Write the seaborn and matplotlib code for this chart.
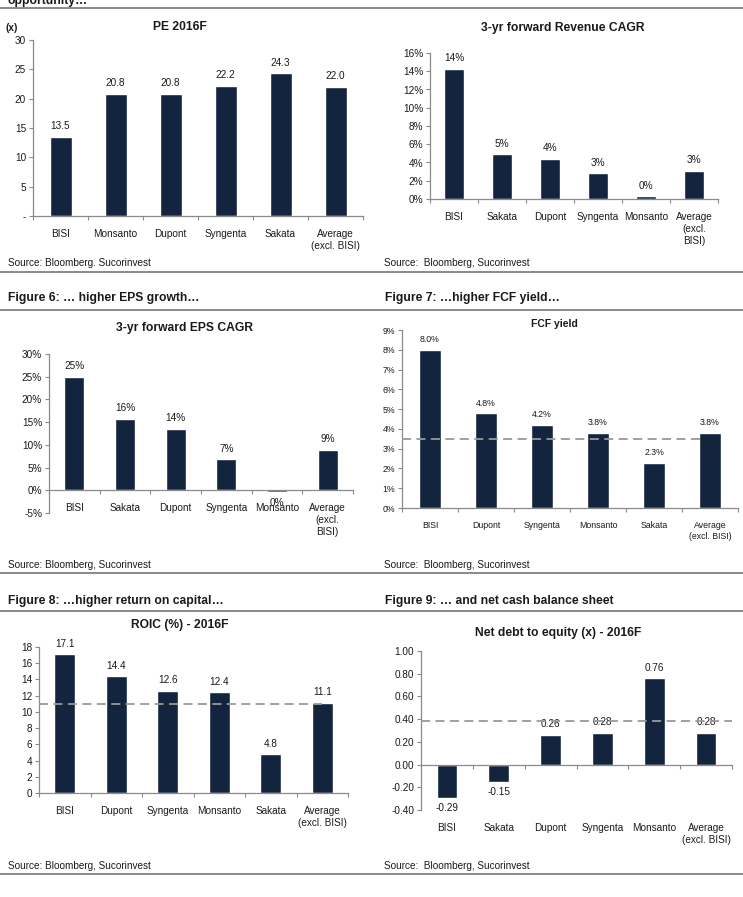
import matplotlib
matplotlib.use("Agg")
import matplotlib.pyplot as plt
from matplotlib.lines import Line2D
from matplotlib.ticker import FixedLocator, FuncFormatter
import seaborn as sns
import pandas as pd

# ---- data ----
pe_names = ["BISI", "Monsanto", "Dupont", "Syngenta", "Sakata", "Average\n(excl. BISI)"]
pe_values = [13.5, 20.8, 20.8, 22.2, 24.3, 22.0]

rev_names = ["BISI", "Sakata", "Dupont", "Syngenta", "Monsanto", "Average\n(excl.\nBISI)"]
rev_values = [14.3, 4.9, 4.4, 2.8, 0.3, 3.1]
rev_labels = ["14%", "5%", "4%", "3%", "0%", "3%"]

eps_names = ["BISI", "Sakata", "Dupont", "Syngenta", "Monsanto", "Average\n(excl.\nBISI)"]
eps_values = [25.0, 15.8, 13.5, 6.8, -0.4, 8.9]
eps_labels = ["25%", "16%", "14%", "7%", "0%", "9%"]

fcf_names = ["BISI", "Dupont", "Syngenta", "Monsanto", "Sakata", "Average\n(excl. BISI)"]
fcf_values = [8.0, 4.8, 4.2, 3.8, 2.3, 3.8]
fcf_ref = 3.5

roic_names = ["BISI", "Dupont", "Syngenta", "Monsanto", "Sakata", "Average\n(excl. BISI)"]
roic_values = [17.1, 14.4, 12.6, 12.4, 4.8, 11.1]
roic_ref = 11.0

nd_names = ["BISI", "Sakata", "Dupont", "Syngenta", "Monsanto", "Average\n(excl. BISI)"]
nd_values = [-0.29, -0.15, 0.26, 0.28, 0.76, 0.28]
nd_ref = 0.38

BAR = "#13243f"
AXC = "#8a8a8a"
TXT = "#1a1a1a"
W, H = 743, 897

sns.set_style("white")
plt.rcParams["font.family"] = ["Liberation Sans", "DejaVu Sans"]

fig = plt.figure(figsize=(W / 100, H / 100), dpi=100)


def px_axes(left, top, right, bottom):
    return fig.add_axes([left / W, 1 - bottom / H, (right - left) / W, (bottom - top) / H])


def ftext(x, y, s, **kw):
    fig.text(x / W, 1 - y / H, s, color=TXT, **kw)


def bar_panel(ax, names, values, labels, ylim, yticks, yfmt, fs=7.2,
              zero_axis=False, label_at=None, ref=None, ref_end=5.5):
    df = pd.DataFrame({"name": names, "value": values})
    sns.barplot(data=df, x="name", y="value", order=names, color=BAR,
                saturation=1, width=0.4, ax=ax, zorder=2)
    ax.set_xlim(-0.5, len(names) - 0.5)
    ax.set_ylim(*ylim)
    ax.set_xlabel("")
    ax.set_ylabel("")
    sns.despine(ax=ax)
    for s in ("left", "bottom"):
        ax.spines[s].set_color(AXC)
        ax.spines[s].set_linewidth(0.9)
    ax.yaxis.set_major_locator(FixedLocator(yticks))
    ax.yaxis.set_major_formatter(FuncFormatter(yfmt))
    ax.tick_params(axis="y", direction="out", length=3, width=0.8, color=AXC,
                   labelsize=fs, labelcolor=TXT, pad=2, left=True)
    ax.set_xticks(range(len(names)))
    ax.set_xticks([i - 0.5 for i in range(len(names) + 1)], minor=True)
    ax.tick_params(axis="x", which="minor", direction="out", length=3, width=0.8,
                   color=AXC, bottom=True)
    ax.tick_params(axis="x", which="major", length=0)
    if zero_axis:
        ax.spines["bottom"].set_position(("data", 0))
        ax.set_xticklabels([""] * len(names))
        for i, n in enumerate(names):
            ax.annotate(n, (i, label_at), xytext=(0, -9.5), textcoords="offset points",
                        ha="center", va="top", fontsize=fs, color=TXT, linespacing=1.25)
    else:
        ax.set_xticklabels(names, fontsize=fs, color=TXT, linespacing=1.25)
        ax.tick_params(axis="x", which="major", pad=9.5)
    for i, (v, lab) in enumerate(zip(values, labels)):
        up = v >= 0
        ax.annotate(lab, (i, v), xytext=(0, 4 if up else -4), textcoords="offset points",
                    ha="center", va="bottom" if up else "top", fontsize=fs, color=TXT)
    if ref is not None:
        ax.plot([-0.5, ref_end], [ref, ref], ls=(0, (5, 3)), color="#999999",
                lw=1.3, zorder=5, clip_on=False)


# PE 2016F
ax1 = px_axes(33, 40, 363, 216)
bar_panel(ax1, pe_names, pe_values, [f"{v:.1f}" for v in pe_values], (0, 30),
          range(0, 31, 5), lambda v, p: "-" if v == 0 else f"{v:.0f}")

# 3-yr forward Revenue CAGR
ax2 = px_axes(430, 53, 718, 199)
bar_panel(ax2, rev_names, rev_values, rev_labels, (0, 16), range(0, 17, 2),
          lambda v, p: f"{v:.0f}%")

# 3-yr forward EPS CAGR
ax3 = px_axes(49, 354, 353, 513)
bar_panel(ax3, eps_names, eps_values, eps_labels, (-5, 30), range(-5, 31, 5),
          lambda v, p: f"{v:.0f}%", zero_axis=True, label_at=0)

# FCF yield
ax4 = px_axes(402, 330, 738, 508)
bar_panel(ax4, fcf_names, fcf_values, [f"{v:.1f}%" for v in fcf_values], (0, 9),
          range(0, 10), lambda v, p: f"{v:.0f}%", fs=6.3, ref=fcf_ref, ref_end=4.9)

# ROIC
ax5 = px_axes(39, 647, 348, 793)
bar_panel(ax5, roic_names, roic_values, [f"{v:.1f}" for v in roic_values], (0, 18),
          range(0, 19, 2), lambda v, p: f"{v:.0f}", ref=roic_ref, ref_end=5.0)

# Net debt to equity
ax6 = px_axes(421, 651, 732, 810)
bar_panel(ax6, nd_names, nd_values, [f"{v:.2f}" for v in nd_values], (-0.4, 1.0),
          [-0.4, -0.2, 0.0, 0.2, 0.4, 0.6, 0.8, 1.0],
          lambda v, p: f"{round(v, 2) + 0:.2f}", zero_axis=True, label_at=-0.4,
          ref=nd_ref, ref_end=5.5)

# titles
ftext(180, 27, "PE 2016F", ha="center", va="center", fontsize=8.7, fontweight="bold")
ftext(6, 28, "(x)", ha="left", va="center", fontsize=7.2, fontweight="bold")
ftext(563, 28, "3-yr forward Revenue CAGR", ha="center", va="center", fontsize=8.7, fontweight="bold")
ftext(185, 328, "3-yr forward EPS CAGR", ha="center", va="center", fontsize=8.7, fontweight="bold")
ftext(554, 324, "FCF yield", ha="center", va="center", fontsize=7.5, fontweight="bold")
ftext(180, 625, "ROIC (%) - 2016F", ha="center", va="center", fontsize=8.7, fontweight="bold")
ftext(558, 633, "Net debt to equity (x) - 2016F", ha="center", va="center", fontsize=8.7, fontweight="bold")

# figure headers
ftext(8, 4, "opportunity…", ha="left", va="baseline", fontsize=8.7, fontweight="bold")
ftext(8, 298, "Figure 6: … higher EPS growth…", ha="left", va="center", fontsize=8.7, fontweight="bold")
ftext(385, 298, "Figure 7: …higher FCF yield…", ha="left", va="center", fontsize=8.7, fontweight="bold")
ftext(8, 601, "Figure 8: …higher return on capital…", ha="left", va="center", fontsize=8.7, fontweight="bold")
ftext(385, 601, "Figure 9: … and net cash balance sheet", ha="left", va="center", fontsize=8.7, fontweight="bold")

# sources
ftext(8, 263, "Source: Bloomberg. Sucorinvest", ha="left", va="center", fontsize=7.2)
ftext(384, 263, "Source:  Bloomberg, Sucorinvest", ha="left", va="center", fontsize=7.2)
ftext(8, 565, "Source: Bloomberg, Sucorinvest", ha="left", va="center", fontsize=7.2)
ftext(384, 565, "Source:  Bloomberg, Sucorinvest", ha="left", va="center", fontsize=7.2)
ftext(8, 866, "Source: Bloomberg, Sucorinvest", ha="left", va="center", fontsize=7.2)
ftext(384, 866, "Source:  Bloomberg, Sucorinvest", ha="left", va="center", fontsize=7.2)

# separator rules
for y in (8, 272, 310, 573, 611, 874):
    fig.add_artist(Line2D([0, 1], [1 - y / H, 1 - y / H], color="#808080", lw=1.3,
                          transform=fig.transFigure))

fig.savefig("out.png", dpi=100)
